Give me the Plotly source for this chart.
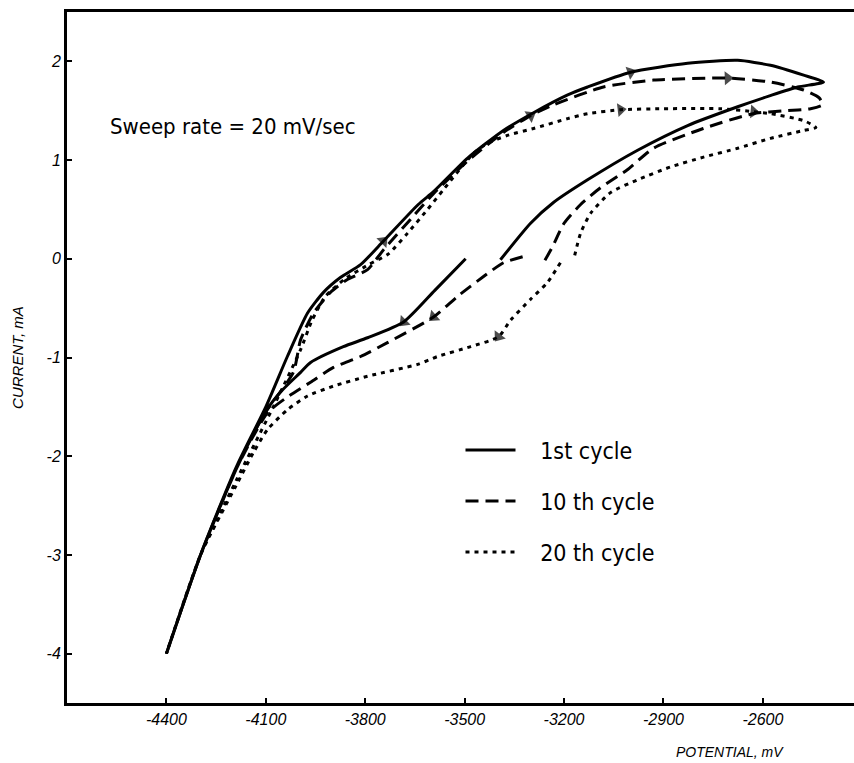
import plotly.graph_objects as go

# ---- data (potential mV, current mA), in sweep order ----
c1_x = [-3497, -3590, -3684, -3793, -3866, -3965, -3995, -4050, -4095, -4185, -4297, -4400,
        -4297, -4185, -4100, -4035, -3974, -3926, -3875, -3814, -3745, -3640, -3594, -3491,
        -3383, -3292, -3189, -3129, -2999, -2827, -2676, -2577, -2477, -2417,
        -2495, -2580, -2676, -2827, -2978, -3129, -3232, -3301, -3392]
c1_y = [0.00, -0.32, -0.64, -0.80, -0.89, -1.05, -1.15, -1.33, -1.52, -2.08, -3.00, -4.00,
        -3.00, -2.08, -1.50, -0.99, -0.55, -0.34, -0.19, -0.06, 0.18, 0.55, 0.68, 1.02,
        1.30, 1.48, 1.66, 1.74, 1.89, 1.98, 2.01, 1.96, 1.86, 1.79,
        1.74, 1.65, 1.54, 1.35, 1.10, 0.80, 0.57, 0.36, -0.01]
c1_arrows = [2, 20, 28]

c10_x = [-3325, -3383, -3443, -3521, -3594, -3733, -3814, -3896, -3965, -4035, -4095, -4185, -4297, -4400,
         -4297, -4185, -4110, -4017, -3995, -3956, -3905, -3854, -3793, -3745, -3650, -3594, -3491,
         -3383, -3301, -3232, -3081, -2930, -2706, -2577, -2477, -2430, -2420,
         -2456, -2530, -2630, -2780, -2930, -3010, -3090, -3150, -3200, -3235, -3262]
c10_y = [0.02, -0.04, -0.18, -0.38, -0.59, -0.85, -0.99, -1.10, -1.25, -1.40, -1.56, -2.10, -3.00, -4.00,
         -3.00, -2.10, -1.60, -1.15, -0.82, -0.55, -0.34, -0.21, -0.11, 0.09, 0.45, 0.66, 0.99,
         1.28, 1.45, 1.56, 1.74, 1.81, 1.83, 1.79, 1.71, 1.63, 1.56,
         1.52, 1.50, 1.47, 1.32, 1.12, 0.90, 0.72, 0.55, 0.36, 0.12, -0.04]
c10_arrows = [4, 28, 32]

c20_x = [-3211, -3250, -3301, -3361, -3398, -3482, -3582, -3642, -3793, -3896, -3974, -4035, -4095, -4137,
         -4190, -4297, -4400,
         -4297, -4190, -4070, -3995, -3960, -3920, -3860, -3790, -3730, -3672, -3612, -3564, -3473,
         -3431, -3371, -3292, -3189, -3129, -3029, -2900, -2728, -2628, -2577, -2477, -2440,
         -2477, -2577, -2676, -2779, -2879, -2978, -3060, -3120, -3150, -3171]
c20_y = [-0.04, -0.24, -0.41, -0.62, -0.79, -0.89, -0.99, -1.07, -1.19, -1.29, -1.39, -1.53, -1.73, -1.96,
         -2.30, -3.00, -4.00,
         -3.00, -2.25, -1.45, -0.92, -0.62, -0.38, -0.20, -0.06, 0.05, 0.26, 0.50, 0.70, 1.07,
         1.17, 1.25, 1.32, 1.42, 1.47, 1.51, 1.52, 1.52, 1.49, 1.47, 1.40, 1.33,
         1.30, 1.22, 1.12, 1.03, 0.93, 0.80, 0.67, 0.46, 0.26, -0.01]
c20_arrows = [4, 35, 38]

names = ["1st cycle", "10 th cycle", "20 th cycle"]
dashes = ["solid", "13px,7px", "4px,5px"]

x_ticks = [-4400, -4100, -3800, -3500, -3200, -2900, -2600]
x_ticktext = ["-4400", "-4100", "-3800", "-3500", "-3200", "-2900", "-2600"]
y_ticks = [2, 1, 0, -1, -2, -3, -4]
y_ticktext = ["2", "1", "0", "-1", "-2", "-3", "-4"]

series = [(c1_x, c1_y, c1_arrows), (c10_x, c10_y, c10_arrows), (c20_x, c20_y, c20_arrows)]

fig = go.Figure()
pad = "\u00a0" * 3
for i, (xs, ys, arr) in enumerate(series):
    fig.add_trace(go.Scatter(
        x=xs, y=ys, mode="lines", name=pad + names[i], legendgroup=f"g{i}",
        line=dict(color="black", width=3, dash=dashes[i], shape="spline", smoothing=0.6),
        showlegend=True, hoverinfo="skip"))
    for k in arr:
        fig.add_trace(go.Scatter(
            x=[xs[k - 1], xs[k]], y=[ys[k - 1], ys[k]], mode="markers", showlegend=False,
            marker=dict(symbol="triangle-up", angleref="previous", size=[0, 12], color="black",
                        line=dict(width=0)),
            hoverinfo="skip"))

tickfont = dict(family="Liberation Sans, DejaVu Sans, sans-serif", size=16, color="black",
                style="italic")
textfont = "Liberation Sans Narrow, DejaVu Sans Condensed, Roboto, sans-serif"

fig.update_layout(
    width=854, height=763,
    margin=dict(l=67, r=0, t=12, b=60),
    paper_bgcolor="white", plot_bgcolor="white",
    showlegend=True,
    legend=dict(x=0.50, y=0.397, xanchor="left", yanchor="top", bgcolor="rgba(0,0,0,0)",
                font=dict(family=textfont, size=23, color="black"),
                tracegroupgap=18, itemwidth=50),
    xaxis=dict(range=[-4700, -2325], tickvals=x_ticks, ticktext=x_ticktext,
               showgrid=False, zeroline=False, showline=True, linewidth=3, linecolor="black",
               mirror=True, ticks="inside", ticklen=5, tickwidth=2, tickcolor="black",
               tickfont=tickfont),
    yaxis=dict(range=[-4.5, 2.5], tickvals=y_ticks, ticktext=y_ticktext,
               showgrid=False, zeroline=False, showline=True, linewidth=3, linecolor="black",
               ticks="inside", ticklen=5, tickwidth=2, tickcolor="black",
               tickfont=tickfont),
    annotations=[
        dict(text="Sweep rate = 20 mV/sec", xref="paper", yref="paper", x=0.052, y=0.834,
             xanchor="left", yanchor="middle", showarrow=False,
             font=dict(family=textfont, size=22, color="black")),
        dict(text="CURRENT, mA", xref="paper", yref="paper", x=-0.063, y=0.5,
             xanchor="center", yanchor="middle", textangle=-90, showarrow=False,
             font=dict(family="Liberation Sans, DejaVu Sans, sans-serif", size=15,
                       color="black", style="italic")),
        dict(text="POTENTIAL, mV", xref="paper", yref="paper", x=0.842, y=-0.071,
             xanchor="center", yanchor="middle", showarrow=False,
             font=dict(family="Liberation Sans, DejaVu Sans, sans-serif", size=14,
                       color="black", style="italic")),
    ],
)

fig.write_html("out.html", config={"displayModeBar": False},
               post_script="document.body.style.margin='0';document.body.style.padding='0';"
                           "document.documentElement.style.overflow='hidden';")
